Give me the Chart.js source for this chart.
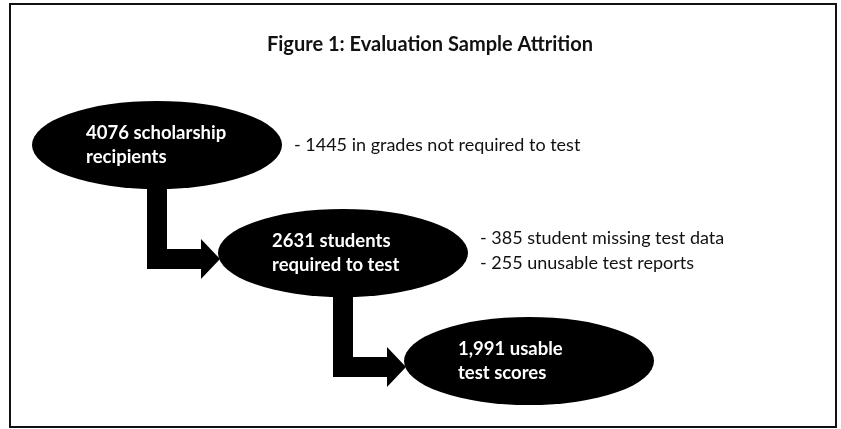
<!DOCTYPE html>
<html>
<head>
<meta charset="utf-8">
<script src="https://cdn.jsdelivr.net/npm/chart.js@4"></script>
<style>
  html, body { margin: 0; padding: 0; background: #fff; }
  canvas { display: block; }
</style>
</head>
<body>
<canvas id="flow" width="841" height="429"></canvas>
<script>
// === ДАННЫЕ ===
const titleText = 'Figure 1: Evaluation Sample Attrition';
const stageIndex = [0, 1, 2];
const stageCounts = [4076, 2631, 1991];
const stageLabels = [
    ['4076 scholarship', 'recipients'],
    ['2631 students', 'required to test'],
    ['1,991 usable', 'test scores']
];
const dropNotes = [
    ['- 1445 in grades not required to test'],
    ['- 385 student missing test data', '- 255 unusable test reports'],
    []
];

// === СТИЛЬ ===
const FONT = 'Lato, "Open Sans", sans-serif';
const RX = 125, RY = 44;        // полуоси эллипса
const SHAFT = 10, HEAD = 20, HEAD_LEN = 19;

// === ПЛАГИН: рамка, стрелки, эллипсы, подписи ===
const flowPlugin = {
    id: 'flow',
    beforeDraw(chart) {
        const ctx = chart.ctx;
        ctx.save();
        ctx.fillStyle = '#fff';
        ctx.fillRect(0, 0, chart.width, chart.height);
        ctx.strokeStyle = '#111';
        ctx.lineWidth = 2;
        ctx.strokeRect(10, 4, chart.width - 15, chart.height - 6);
        ctx.fillStyle = '#111';
        ctx.font = 'bold 20px ' + FONT;
        ctx.textAlign = 'center';
        ctx.textBaseline = 'middle';
        ctx.fillText(titleText, 430, 45);
        ctx.restore();
    },
    afterDatasetsDraw(chart) {
        const ctx = chart.ctx;
        const pts = chart.getDatasetMeta(0).data;
        ctx.save();
        ctx.fillStyle = '#000';

        // стрелки между этапами
        for (let i = 0; i < pts.length - 1; i++) {
            const a = pts[i], b = pts[i + 1];
            const bendY = b.y + 6;
            const tipX = b.x - RX + 2;
            const baseX = tipX - HEAD_LEN;
            ctx.beginPath();
            ctx.moveTo(a.x - SHAFT, a.y + RY - 4);
            ctx.lineTo(a.x + SHAFT, a.y + RY - 4);
            ctx.lineTo(a.x + SHAFT, bendY - SHAFT);
            ctx.lineTo(baseX, bendY - SHAFT);
            ctx.lineTo(baseX, bendY - HEAD);
            ctx.lineTo(tipX, bendY);
            ctx.lineTo(baseX, bendY + HEAD);
            ctx.lineTo(baseX, bendY + SHAFT);
            ctx.lineTo(a.x - SHAFT, bendY + SHAFT);
            ctx.closePath();
            ctx.fill();
        }

        // эллипсы и тексты
        pts.forEach((p, i) => {
            ctx.fillStyle = '#000';
            ctx.beginPath();
            ctx.ellipse(p.x, p.y, RX, RY, 0, 0, Math.PI * 2);
            ctx.fill();

            ctx.fillStyle = '#fff';
            ctx.font = 'bold 18.5px ' + FONT;
            ctx.textAlign = 'left';
            ctx.textBaseline = 'middle';
            stageLabels[i].forEach((line, k) => {
                ctx.fillText(line, p.x - RX + 54, p.y - 12 + k * 24);
            });

            const notes = dropNotes[i];
            ctx.fillStyle = '#111';
            ctx.font = '18px ' + FONT;
            const top = p.y - 14.5 * (notes.length - 1);
            notes.forEach((line, k) => {
                ctx.fillText(line, p.x + RX + 12, top + k * 25);
            });
        });
        ctx.restore();
    }
};

// === ГРАФИК ===
const chart = new Chart(document.getElementById('flow'), {
    type: 'scatter',
    data: {
        datasets: [{
            label: 'stages',
            data: stageIndex.map((s, i) => ({ x: s, y: s, n: stageCounts[i] })),
            pointRadius: 0,
            pointHoverRadius: 0
        }]
    },
    options: {
        responsive: false,
        animation: false,
        devicePixelRatio: 1,
        layout: { padding: 0 },
        plugins: {
            legend: { display: false },
            title: { display: false },
            tooltip: { enabled: false }
        },
        scales: {
            // этап 0 -> 157px, шаг 186px по x; 145px, шаг 108px по y
            x: { type: 'linear', display: false, min: -157 / 186, max: (841 - 157) / 186 },
            y: { type: 'linear', display: false, reverse: true, min: -145 / 108, max: (429 - 145) / 108 }
        }
    },
    plugins: [flowPlugin]
});
</script>
</body>
</html>
